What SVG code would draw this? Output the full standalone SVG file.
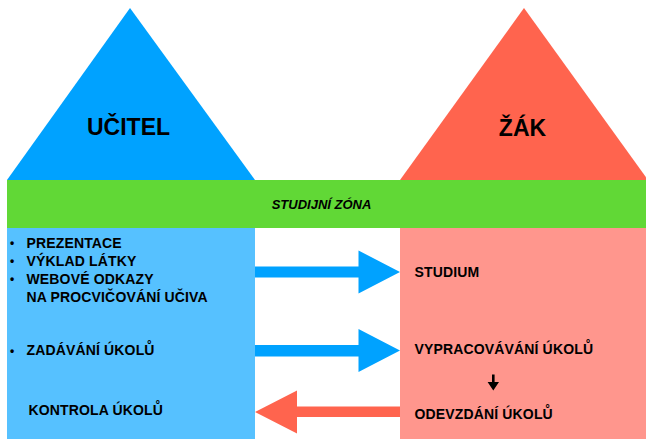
<svg xmlns="http://www.w3.org/2000/svg" width="646" height="439" viewBox="0 0 646 439">
<style>
text{font-family:"Liberation Sans",Arial,sans-serif;font-weight:bold;fill:#000}
.title{font-size:23px;text-anchor:middle}
.item{font-size:14px;letter-spacing:0.15px}
.zone{font-size:13px;font-style:italic;text-anchor:middle}
.bul{font-size:12px}
</style>
<rect width="646" height="439" fill="#fff"/>
<g id="ucitel">
<polygon points="130,8 7,180 255,180" fill="#00A2FF"/>
<text class="title" x="128.5" y="135">UČITEL</text>
</g>
<g id="zak">
<polygon points="524,8 400,180 648,180" fill="#FF644E"/>
<text class="title" x="522.5" y="135.5">ŽÁK</text>
</g>
<g id="studijni-zona">
<rect x="7" y="180" width="639" height="48" fill="#61D836"/>
<text class="zone" x="321.5" y="208.5">STUDIJNÍ ZÓNA</text>
</g>
<g id="ucitel-box">
<rect x="7" y="228" width="248" height="211" fill="#56C1FF"/>
<text class="bul" x="10" y="247">•</text>
<text class="bul" x="10" y="265">•</text>
<text class="bul" x="10" y="283">•</text>
<text class="bul" x="10" y="355">•</text>
<text class="item" x="26.5" y="248">PREZENTACE</text>
<text class="item" x="26.5" y="266">VÝKLAD LÁTKY</text>
<text class="item" x="26.5" y="283.5">WEBOVÉ ODKAZY</text>
<text class="item" x="26.5" y="301.5">NA PROCVIČOVÁNÍ UČIVA</text>
<text class="item" x="26.5" y="355">ZADÁVÁNÍ ÚKOLŮ</text>
<text class="item" x="28.5" y="415">KONTROLA ÚKOLŮ</text>
</g>
<g id="zak-box">
<rect x="400" y="228" width="246" height="211" fill="#FF968D"/>
<text class="item" x="414.5" y="276.5">STUDIUM</text>
<text class="item" x="414.5" y="353.5">VYPRACOVÁVÁNÍ ÚKOLŮ</text>
<text class="item" x="414.5" y="419">ODEVZDÁNÍ ÚKOLŮ</text>
</g>
<g id="connectors">
<polygon points="255,266.5 358.5,266.5 358.5,250.5 400,272 358.5,293.5 358.5,277.5 255,277.5" fill="#00A2FF"/>
<polygon points="255,345 358.5,345 358.5,329 400,350.5 358.5,372 358.5,356.5 255,356.5" fill="#00A2FF"/>
<polygon points="400,406.5 297,406.5 297,390.5 255,412 297,433.5 297,417 400,417" fill="#FF644E"/>
<polygon points="492,374.5 494.6,374.5 494.6,382 499,382 493.3,390.5 487.6,382 492,382" fill="#000"/>
</g>
</svg>
